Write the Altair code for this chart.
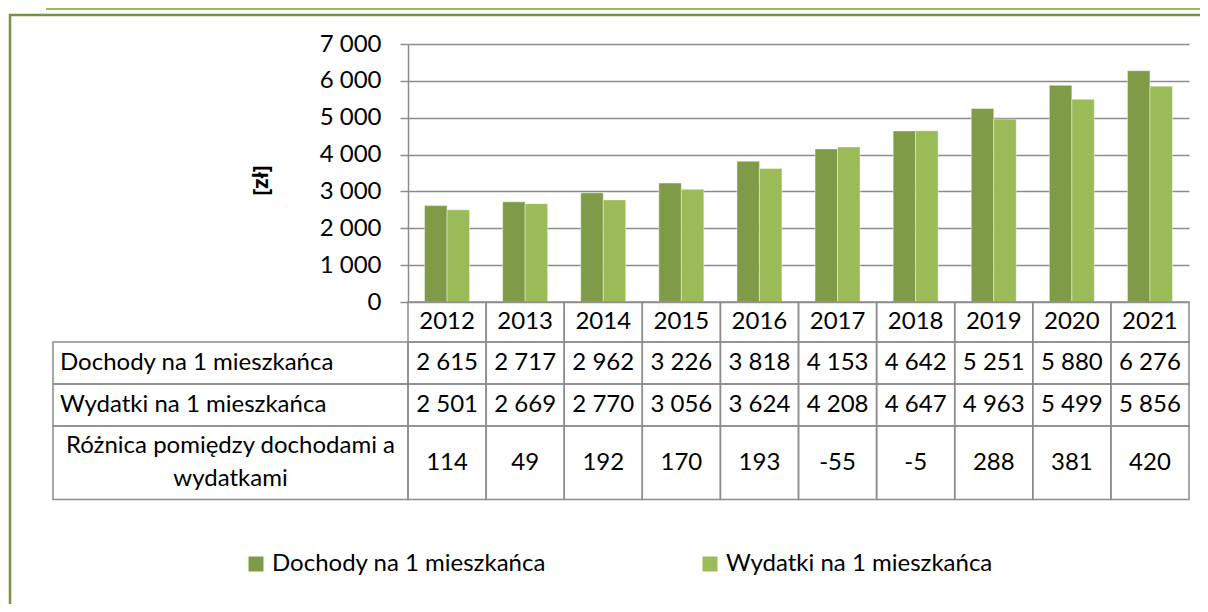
import altair as alt
import pandas as pd

# ---------------- data ----------------
years = [2012, 2013, 2014, 2015, 2016, 2017, 2018, 2019, 2020, 2021]
dochody = [2615, 2717, 2962, 3226, 3818, 4153, 4642, 5251, 5880, 6276]
wydatki = [2501, 2669, 2770, 3056, 3624, 4208, 4647, 4963, 5499, 5856]
roznica = [114, 49, 192, 170, 193, -55, -5, 288, 381, 420]
series_names = ["Dochody na 1 mieszkańca", "Wydatki na 1 mieszkańca"]
row_labels = ["Dochody na 1 mieszkańca", "Wydatki na 1 mieszkańca",
              "Różnica pomiędzy dochodami a\nwydatkami"]
y_ticks = [0, 1000, 2000, 3000, 4000, 5000, 6000, 7000]
y_title = "[zł]"

# ---------------- layout / style ----------------
FONT = "Lato"
FS = 24
DARK = "#7F9B47"
LIGHT = "#9BBB59"
GRID = "#8c8c8c"
PLOT_W, PLOT_H = 781, 258
N = len(years)
STEP = PLOT_W / N
LABEL_COL_W = 355
LABEL_UNITS = LABEL_COL_W / STEP
ROW_H = [40, 42, 42, 73.5]
ROW_EDGES = [0]
for h in ROW_H:
    ROW_EDGES.append(ROW_EDGES[-1] + h)
TABLE_H = ROW_EDGES[-1]


def fmt(v):
    return f"{v:,}".replace(",", " ")


ystr = [str(y) for y in years]

bar_df = pd.DataFrame(
    [{"year": str(y), "series": series_names[0], "value": d} for y, d in zip(years, dochody)]
    + [{"year": str(y), "series": series_names[1], "value": w} for y, w in zip(years, wydatki)]
)

bars = alt.Chart(bar_df).mark_bar(stroke="white", strokeWidth=0.6, strokeOpacity=0.7).encode(
    x=alt.X("year:N", scale=alt.Scale(domain=ystr, paddingInner=0.424, paddingOuter=0.212), axis=None),
    xOffset=alt.XOffset("series:N", scale=alt.Scale(domain=series_names, paddingInner=0, paddingOuter=0)),
    y=alt.Y("value:Q", scale=alt.Scale(domain=[0, 7000], nice=False),
            axis=alt.Axis(values=y_ticks,
                          labelExpr="replace(format(datum.value, ','), ',', ' ')",
                          labelFont=FONT, labelFontSize=FS, labelColor="black", labelPadding=19,
                          tickSize=8, tickColor=GRID, tickWidth=1.5,
                          domainColor=GRID, domainWidth=1.5,
                          grid=True, gridColor=GRID, gridWidth=1.5,
                          title=y_title, titleFont="Open Sans", titleFontSize=21, titleFontWeight=700,
                          titleColor="black", titleX=-147, titleY=136, titleAngle=270,
                          titleAlign="center", titleBaseline="middle")),
    color=alt.Color("series:N", scale=alt.Scale(domain=series_names, range=[DARK, LIGHT]),
                    legend=alt.Legend(orient="none", legendX=-164, legendY=508, direction="horizontal",
                                      title=None, symbolType="square", symbolSize=225,
                                      symbolStrokeWidth=0, labelFont=FONT, labelFontSize=FS,
                                      labelColor="black", labelOffset=4, columnPadding=152,
                                      padding=0, labelLimit=400)),
)

# table cells
cells = []
for i in range(N):
    for r in range(4):
        cells.append({"x0": i, "x1": i + 1, "y0": ROW_EDGES[r], "y1": ROW_EDGES[r + 1]})
for r in range(1, 4):
    cells.append({"x0": -LABEL_UNITS, "x1": 0, "y0": ROW_EDGES[r], "y1": ROW_EDGES[r + 1]})
cells_df = pd.DataFrame(cells)

tx = alt.Scale(domain=[-LABEL_UNITS, N], range=[-LABEL_COL_W, PLOT_W])
ty = alt.Scale(domain=[0, TABLE_H], range=[PLOT_H, PLOT_H + TABLE_H])

table_rects = alt.Chart(cells_df).mark_rect(fillOpacity=0, stroke=GRID, strokeWidth=1.5).encode(
    x=alt.X("x0:Q", scale=tx, axis=None), x2="x1:Q",
    y=alt.Y("y0:Q", scale=ty, axis=None), y2="y1:Q",
)

texts = []
rows_vals = [[str(y) for y in years], [fmt(v) for v in dochody], [fmt(v) for v in wydatki],
             [fmt(v) for v in roznica]]
for r, vals in enumerate(rows_vals):
    yc = (ROW_EDGES[r] + ROW_EDGES[r + 1]) / 2
    for i, t in enumerate(vals):
        texts.append({"xc": i + 0.5, "yc": yc, "txt": t})
texts_df = pd.DataFrame(texts)

table_text = alt.Chart(texts_df).mark_text(font=FONT, fontSize=FS, color="black",
                                           baseline="middle", align="center").encode(
    x=alt.X("xc:Q", scale=tx, axis=None),
    y=alt.Y("yc:Q", scale=ty, axis=None),
    text="txt:N",
)

lab_left_df = pd.DataFrame([
    {"xc": -LABEL_UNITS + 0.09, "yc": (ROW_EDGES[r + 1] + ROW_EDGES[r + 2]) / 2, "txt": row_labels[r]}
    for r in range(2)
])
lab_left = alt.Chart(lab_left_df).mark_text(font=FONT, fontSize=FS, color="black",
                                            baseline="middle", align="left").encode(
    x=alt.X("xc:Q", scale=tx, axis=None),
    y=alt.Y("yc:Q", scale=ty, axis=None),
    text="txt:N",
)
lab_c_df = pd.DataFrame([{"xc": -LABEL_UNITS / 2, "yc": (ROW_EDGES[3] + ROW_EDGES[4]) / 2 - 16.5,
                          "txt": row_labels[2]}])
lab_center = alt.Chart(lab_c_df).mark_text(font=FONT, fontSize=FS, color="black",
                                           baseline="middle", align="center",
                                           lineBreak="\n", lineHeight=33).encode(
    x=alt.X("xc:Q", scale=tx, axis=None),
    y=alt.Y("yc:Q", scale=ty, axis=None),
    text="txt:N",
)

one = alt.Data(values=[{}])
frame_top_light = alt.Chart(one).mark_rule(color=LIGHT, strokeWidth=2).encode(
    x=alt.value(-362), x2=alt.value(800), y=alt.value(-35))
frame_top = alt.Chart(one).mark_rule(color="#77933C", strokeWidth=2.5).encode(
    x=alt.value(-399), x2=alt.value(800), y=alt.value(-29))
frame_left = alt.Chart(one).mark_rule(color="#77933C", strokeWidth=2.5).encode(
    x=alt.value(-398), y=alt.value(-30), y2=alt.value(570))

chart = alt.layer(
    bars, table_rects, table_text, lab_left, lab_center, frame_top_light, frame_top, frame_left
).resolve_scale(x="independent", y="independent").properties(
    width=PLOT_W, height=PLOT_H,
    autosize=alt.AutoSizeParams(type="none"),
    padding={"left": 400, "top": 36, "right": 11, "bottom": 302},
    background="white",
).configure_view(stroke=None)

chart.save("out.html", embed_options={"renderer": "svg", "actions": False})
